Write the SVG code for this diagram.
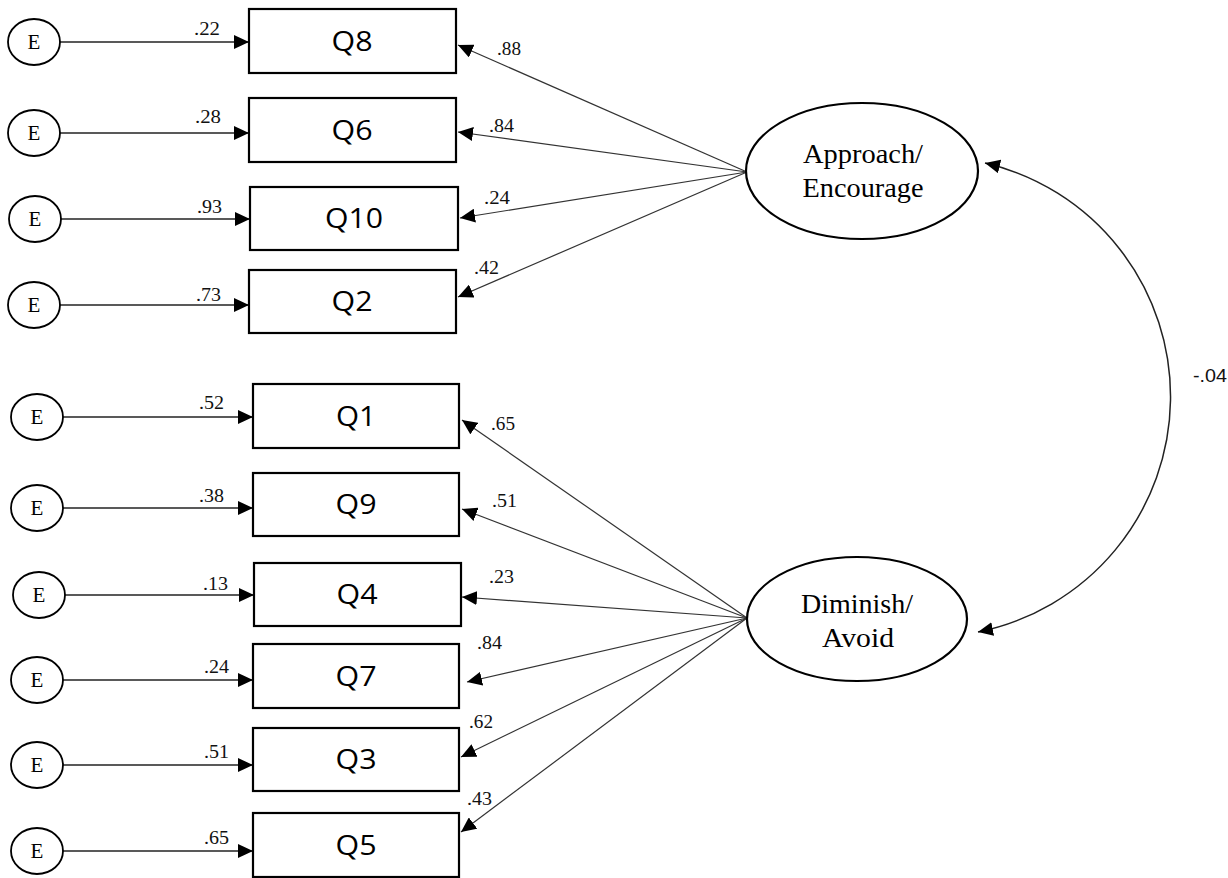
<svg xmlns="http://www.w3.org/2000/svg" width="1228" height="878" viewBox="0 0 1228 878">
<style>
.box{fill:#fff;stroke:#000;stroke-width:2.2}
.lat{fill:#fff;stroke:#000;stroke-width:2.2}
.err{fill:#fff;stroke:#000;stroke-width:1.8}
.q{font-family:"Open Sans","Liberation Sans",sans-serif;font-size:28px;fill:#000;text-anchor:middle}
.e{font-family:"Liberation Serif","Times New Roman",serif;font-size:21px;fill:#000;text-anchor:middle}
.lt{font-family:"Liberation Serif","Times New Roman",serif;font-size:28px;fill:#000;text-anchor:middle}
.n{font-family:"Liberation Serif","Times New Roman",serif;font-size:19px;fill:#111}
.s{font-family:"Liberation Sans",Arial,sans-serif;font-size:18px;fill:#111}
.ln{stroke:#222;stroke-width:1.5;fill:none;marker-end:url(#ah)}
.ld{stroke:#333;stroke-width:1.2;fill:none;marker-end:url(#ah)}
</style>
<defs>
<marker id="ah" markerUnits="userSpaceOnUse" markerWidth="16" markerHeight="14" refX="15" refY="7" orient="auto-start-reverse">
<path d="M0,0 L15,7 L0,14 z" fill="#000"/>
</marker>
</defs>
<rect width="1228" height="878" fill="#fff"/>
<g id="connectors">
<line class="ln" x1="60" y1="42" x2="249" y2="42"/>
<line class="ln" x1="60" y1="133" x2="249" y2="133"/>
<line class="ln" x1="61" y1="219" x2="250" y2="219"/>
<line class="ln" x1="60" y1="305" x2="249" y2="305"/>
<line class="ln" x1="63" y1="417" x2="253" y2="417"/>
<line class="ln" x1="63" y1="508" x2="253" y2="508"/>
<line class="ln" x1="65" y1="595" x2="254" y2="595"/>
<line class="ln" x1="63" y1="680" x2="253" y2="680"/>
<line class="ln" x1="63" y1="765" x2="253" y2="765"/>
<line class="ln" x1="63" y1="851" x2="253" y2="851"/>
<line class="ld" x1="747" y1="172" x2="458" y2="45"/>
<line class="ld" x1="747" y1="172" x2="458" y2="132"/>
<line class="ld" x1="747" y1="172" x2="460" y2="218"/>
<line class="ld" x1="747" y1="172" x2="458" y2="297"/>
<line class="ld" x1="747" y1="618" x2="462" y2="420"/>
<line class="ld" x1="747" y1="618" x2="462" y2="509"/>
<line class="ld" x1="747" y1="618" x2="462" y2="597"/>
<line class="ld" x1="747" y1="618" x2="467" y2="682"/>
<line class="ld" x1="747" y1="618" x2="461" y2="757"/>
<line class="ld" x1="747" y1="618" x2="461" y2="832"/>
<path d="M985,163 A240,240 0 0 1 978,632" stroke="#222" stroke-width="1.5" fill="none" marker-start="url(#ah)" marker-end="url(#ah)"/>
<text class="n" x="194" y="35" textLength="26" lengthAdjust="spacingAndGlyphs">.22</text>
<text class="n" x="195" y="123" textLength="26" lengthAdjust="spacingAndGlyphs">.28</text>
<text class="n" x="197" y="213" textLength="25" lengthAdjust="spacingAndGlyphs">.93</text>
<text class="n" x="196" y="301" textLength="25" lengthAdjust="spacingAndGlyphs">.73</text>
<text class="n" x="199" y="409" textLength="25" lengthAdjust="spacingAndGlyphs">.52</text>
<text class="n" x="199" y="502" textLength="25" lengthAdjust="spacingAndGlyphs">.38</text>
<text class="n" x="203" y="590" textLength="25" lengthAdjust="spacingAndGlyphs">.13</text>
<text class="n" x="204" y="673" textLength="25" lengthAdjust="spacingAndGlyphs">.24</text>
<text class="n" x="204" y="758" textLength="25" lengthAdjust="spacingAndGlyphs">.51</text>
<text class="n" x="204" y="844" textLength="25" lengthAdjust="spacingAndGlyphs">.65</text>
<text class="n" x="497" y="55" textLength="24" lengthAdjust="spacingAndGlyphs">.88</text>
<text class="n" x="489" y="132" textLength="25" lengthAdjust="spacingAndGlyphs">.84</text>
<text class="n" x="484" y="204" textLength="26" lengthAdjust="spacingAndGlyphs">.24</text>
<text class="n" x="474" y="274" textLength="25" lengthAdjust="spacingAndGlyphs">.42</text>
<text class="n" x="491" y="430" textLength="24" lengthAdjust="spacingAndGlyphs">.65</text>
<text class="n" x="492" y="507" textLength="25" lengthAdjust="spacingAndGlyphs">.51</text>
<text class="n" x="489" y="583" textLength="25" lengthAdjust="spacingAndGlyphs">.23</text>
<text class="n" x="477" y="649" textLength="25" lengthAdjust="spacingAndGlyphs">.84</text>
<text class="n" x="469" y="728" textLength="24" lengthAdjust="spacingAndGlyphs">.62</text>
<text class="n" x="467" y="805" textLength="25" lengthAdjust="spacingAndGlyphs">.43</text>
<text class="s" x="1193" y="382" textLength="34" lengthAdjust="spacingAndGlyphs">-.04</text>
</g>
<g id="e1"><ellipse class="err" cx="34" cy="42" rx="26" ry="23"/><text class="e" x="34" y="49">E</text></g>
<g id="e2"><ellipse class="err" cx="34" cy="133" rx="26" ry="23"/><text class="e" x="34" y="140">E</text></g>
<g id="e3"><ellipse class="err" cx="35" cy="219" rx="26" ry="23"/><text class="e" x="35" y="226">E</text></g>
<g id="e4"><ellipse class="err" cx="34" cy="305" rx="26" ry="23"/><text class="e" x="34" y="312">E</text></g>
<g id="e5"><ellipse class="err" cx="37" cy="417" rx="26" ry="23"/><text class="e" x="37" y="424">E</text></g>
<g id="e6"><ellipse class="err" cx="37" cy="508" rx="26" ry="23"/><text class="e" x="37" y="515">E</text></g>
<g id="e7"><ellipse class="err" cx="39" cy="595" rx="26" ry="23"/><text class="e" x="39" y="602">E</text></g>
<g id="e8"><ellipse class="err" cx="37" cy="680" rx="26" ry="23"/><text class="e" x="37" y="687">E</text></g>
<g id="e9"><ellipse class="err" cx="37" cy="765" rx="26" ry="23"/><text class="e" x="37" y="772">E</text></g>
<g id="e10"><ellipse class="err" cx="37" cy="851" rx="26" ry="23"/><text class="e" x="37" y="858">E</text></g>
<g id="q8"><rect class="box" x="249" y="9" width="207" height="64"/><text class="q" x="352" y="51" textLength="41" lengthAdjust="spacingAndGlyphs">Q8</text></g>
<g id="q6"><rect class="box" x="249" y="98" width="207" height="64"/><text class="q" x="352" y="140" textLength="41" lengthAdjust="spacingAndGlyphs">Q6</text></g>
<g id="q10"><rect class="box" x="250" y="187" width="208" height="63"/><text class="q" x="354" y="228" textLength="58" lengthAdjust="spacingAndGlyphs">Q10</text></g>
<g id="q2"><rect class="box" x="249" y="270" width="207" height="63"/><text class="q" x="352" y="311" textLength="41" lengthAdjust="spacingAndGlyphs">Q2</text></g>
<g id="q1"><rect class="box" x="253" y="384" width="206" height="64"/><text class="q" x="356" y="426" textLength="40" lengthAdjust="spacingAndGlyphs">Q1</text></g>
<g id="q9"><rect class="box" x="253" y="473" width="206" height="63"/><text class="q" x="356" y="514" textLength="41" lengthAdjust="spacingAndGlyphs">Q9</text></g>
<g id="q4"><rect class="box" x="254" y="563" width="207" height="63"/><text class="q" x="357" y="604" textLength="41" lengthAdjust="spacingAndGlyphs">Q4</text></g>
<g id="q7"><rect class="box" x="253" y="644" width="206" height="64"/><text class="q" x="356" y="686" textLength="41" lengthAdjust="spacingAndGlyphs">Q7</text></g>
<g id="q3"><rect class="box" x="253" y="728" width="206" height="63"/><text class="q" x="356" y="769" textLength="41" lengthAdjust="spacingAndGlyphs">Q3</text></g>
<g id="q5"><rect class="box" x="253" y="813" width="206" height="64"/><text class="q" x="356" y="855" textLength="41" lengthAdjust="spacingAndGlyphs">Q5</text></g>
<g id="approach"><ellipse class="lat" cx="862" cy="171" rx="116" ry="68"/><text class="lt" x="863" y="163" textLength="120" lengthAdjust="spacingAndGlyphs">Approach/</text><text class="lt" x="863" y="197" textLength="121" lengthAdjust="spacingAndGlyphs">Encourage</text></g>
<g id="diminish"><ellipse class="lat" cx="857" cy="619" rx="110" ry="62"/><text class="lt" x="857" y="613" textLength="112" lengthAdjust="spacingAndGlyphs">Diminish/</text><text class="lt" x="858" y="647" textLength="72" lengthAdjust="spacingAndGlyphs">Avoid</text></g>
</svg>
